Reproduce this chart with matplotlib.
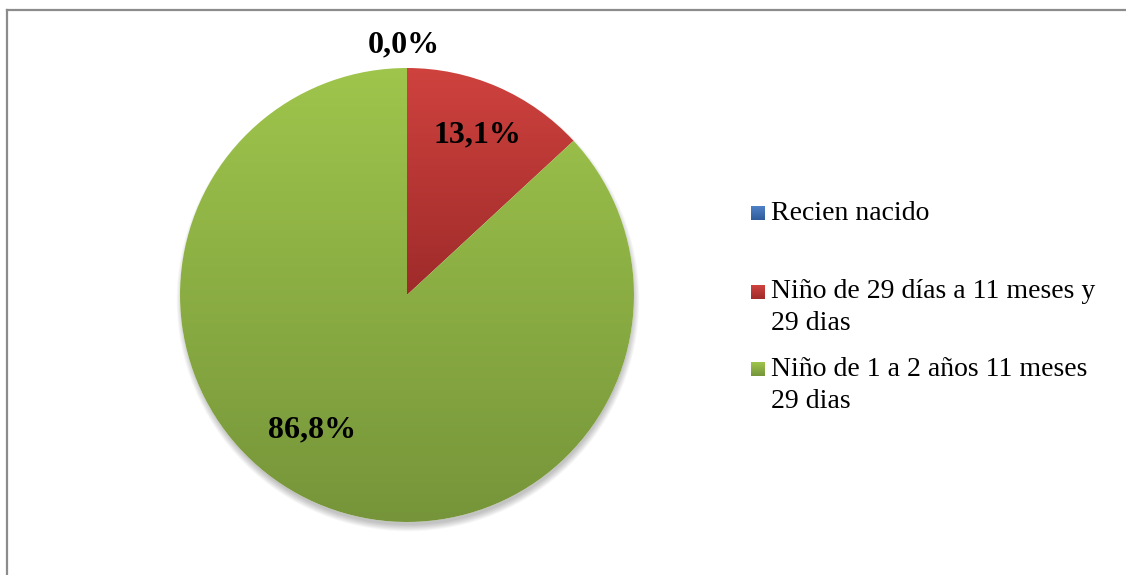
import numpy as np
import matplotlib
matplotlib.use("Agg")
import matplotlib.pyplot as plt
from matplotlib.colors import LinearSegmentedColormap
from matplotlib.patches import Circle
from matplotlib.lines import Line2D

categorias = ["Recien nacido",
              "Niño de 29 días a 11 meses y\n29 dias",
              "Niño de 1 a 2 años 11 meses\n29 dias"]
porcentajes = [0.0, 13.1, 86.8]
# colores (arriba, abajo) del degradado de cada sector
col_arriba = ["#4F81C7", "#CF423E", "#9FC54C"]
col_abajo = ["#2F5C9A", "#9E2B2A", "#76953A"]

W, H = 1126, 575
fig = plt.figure(figsize=(W / 100, H / 100), dpi=100)
ax = fig.add_axes([0, 0, 1, 1])

cx, cy, r = 407, H - 295, 227

# sombra suave bajo la torta
for k in range(8):
    ax.add_patch(Circle((cx + 1, cy - 5), r - 2 + k * 0.9, color="black",
                        alpha=0.03, lw=0, zorder=1))
ax.add_patch(Circle((cx, cy), r, color="white", lw=0, zorder=1.5))

wedges, _ = ax.pie(porcentajes, startangle=90, counterclock=False,
                   center=(cx, cy), radius=r, frame=True,
                   wedgeprops=dict(linewidth=0, alpha=0))
ax.set_xlim(0, W)
ax.set_ylim(0, H)
ax.set_aspect("equal")
ax.axis("off")

# degradado vertical dentro de cada sector
for w, c1, c2 in zip(wedges, col_arriba, col_abajo):
    bb = w.get_path().get_extents(w.get_transform()).transformed(ax.transData.inverted())
    if bb.height < 1:
        continue
    cmap = LinearSegmentedColormap.from_list("g", [c2, c1])
    grad = np.linspace(0, 1, 256).reshape(-1, 1)
    im = ax.imshow(grad, cmap=cmap, origin="lower", aspect="auto",
                   extent=[bb.x0, bb.x1, bb.y0, bb.y1], zorder=2,
                   interpolation="bilinear")
    im.set_clip_path(w)

# etiquetas de porcentaje
pos_etiquetas = [(404, H - 45), (477, H - 135), (312, H - 430)]
for p, (x, y) in zip(porcentajes, pos_etiquetas):
    ax.text(x, y, f"{p:.1f}%".replace(".", ","), ha="center", va="center",
            family="Liberation Serif", fontweight="bold", fontsize=23,
            color="black", zorder=5)

# leyenda
ley_y = [H - 213, H - 292, H - 369]
for etiqueta, c1, c2, y in zip(categorias, col_arriba, col_abajo, ley_y):
    cmap = LinearSegmentedColormap.from_list("g", [c2, c1])
    ax.imshow(np.linspace(0, 1, 32).reshape(-1, 1), cmap=cmap, origin="lower",
              aspect="auto", extent=[751, 765, y - 7, y + 7], zorder=3)
    for i, ln in enumerate(etiqueta.split("\n")):
        ax.text(771, y - i * 32, ln, ha="left", va="center",
                family="Liberation Serif", fontsize=20, color="black")

# marco del área del gráfico
ax.add_line(Line2D([7, 7], [0, H - 10], color="#8C8C8C", lw=1.6, zorder=6))
ax.add_line(Line2D([7, W], [H - 10, H - 10], color="#8C8C8C", lw=1.6, zorder=6))

fig.savefig("out.png", dpi=100, facecolor="white")
